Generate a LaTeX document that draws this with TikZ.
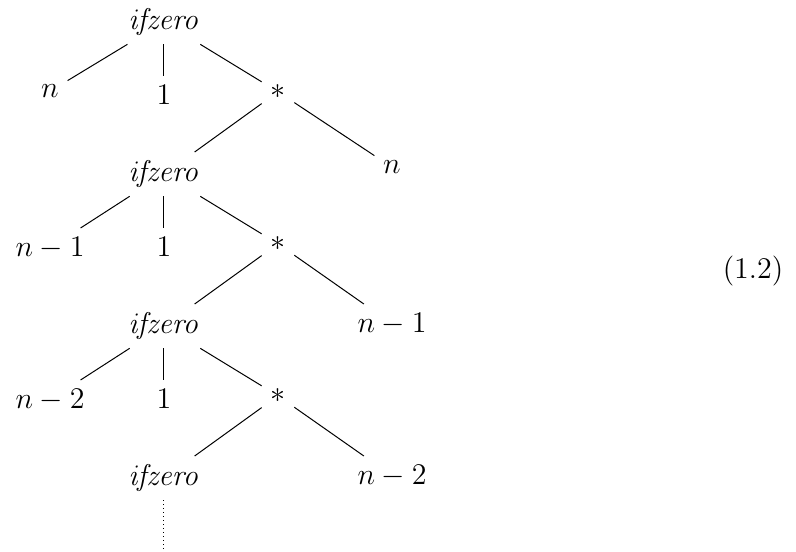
\documentclass[tikz,border=0pt,12pt]{standalone}
\usetikzlibrary{positioning}

\begin{document}
\begin{tikzpicture}[
  x=0.4pt, y=-0.4pt,
  term/.style={anchor=north, inner sep=3.33pt},
  branch/.style={line width=0.4pt},
  more/.style={line width=0.4pt, dash pattern=on 0.4pt off 1.2pt}
]
\useasboundingbox (0,0) rectangle (796,552);

% first unfolding
\node[term] (if0) at (164,0) {$\mathit{ifzero}$};
\node[term] (arg0) at (50,76) {$n$};
\node[term] (one0) at (164,76) {$1$};
\node[term] (mul0) at (278,76) {$*$};

% second unfolding
\node[term] (if1) at (164,152) {$\mathit{ifzero}$};
\node[term] (fac0) at (392,152) {$n$};
\node[term] (arg1) at (50,228) {$n-1$};
\node[term] (one1) at (164,228) {$1$};
\node[term] (mul1) at (278,228) {$*$};

% third unfolding
\node[term] (if2) at (164,304) {$\mathit{ifzero}$};
\node[term] (fac1) at (392,304) {$n-1$};
\node[term] (arg2) at (50,380) {$n-2$};
\node[term] (one2) at (164,380) {$1$};
\node[term] (mul2) at (278,380) {$*$};

% and so on
\node[term] (if3) at (164,456) {$\mathit{ifzero}$};
\node[term] (fac2) at (392,456) {$n-2$};
\coordinate (rest) at (164,552);

\draw[branch] (if0) -- (arg0);
\draw[branch] (if0) -- (one0);
\draw[branch] (if0) -- (mul0);
\draw[branch] (mul0) -- (if1);
\draw[branch] (mul0) -- (fac0);

\draw[branch] (if1) -- (arg1);
\draw[branch] (if1) -- (one1);
\draw[branch] (if1) -- (mul1);
\draw[branch] (mul1) -- (if2);
\draw[branch] (mul1) -- (fac1);

\draw[branch] (if2) -- (arg2);
\draw[branch] (if2) -- (one2);
\draw[branch] (if2) -- (mul2);
\draw[branch] (mul2) -- (if3);
\draw[branch] (mul2) -- (fac2);

\draw[more] (if3.south) -- (rest);

\node (eqno) at (753,271) {(1.2)};
\end{tikzpicture}
\end{document}
